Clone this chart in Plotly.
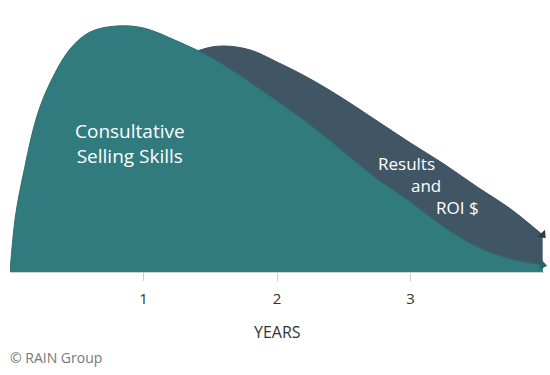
import plotly.graph_objects as go

# Data (x in years, y in relative units)
skills_x = [0.0, 0.04, 0.1, 0.2, 0.3, 0.45, 0.6, 0.8, 1.0, 1.25, 1.5, 1.75, 2.0, 2.25, 2.5, 2.75,
            3.0, 3.25, 3.5, 3.75, 3.99]
skills_y = [0, 55, 98, 155, 189, 223, 240, 246, 244, 231, 215, 194, 171, 147, 120, 93,
            70, 45, 25, 13, 7]

roi_x = [0.75, 1.0, 1.25, 1.45, 1.6, 1.8, 2.0, 2.25, 2.5, 2.75, 3.0, 3.25, 3.5, 3.75, 3.99]
roi_y = [0, 140, 210, 223, 226, 222, 210, 193, 173, 151, 129, 108, 85, 63, 37]

tick_vals = [1, 2, 3]
tick_text = ["1", "2", "3"]

TEAL = "#317b7f"
DARK = "#405664"
FONT = "Open Sans"

fig = go.Figure()

fig.add_trace(go.Scatter(
    x=roi_x, y=roi_y, mode="lines", line=dict(color="#3a4e5b", width=1, shape="spline", smoothing=1.0),
    fill="tozeroy", fillcolor=DARK, hoverinfo="skip", showlegend=False))
fig.add_trace(go.Scatter(
    x=skills_x, y=skills_y, mode="lines", line=dict(color="#2b6e72", width=1, shape="spline", smoothing=1.0),
    fill="tozeroy", fillcolor=TEAL, hoverinfo="skip", showlegend=False))

# arrowheads at the ends
fig.add_trace(go.Scatter(
    x=[roi_x[-1]], y=[roi_y[-1]], mode="markers",
    marker=dict(symbol="triangle-right", size=9, color="#2f3f4a", angle=48),
    hoverinfo="skip", showlegend=False, cliponaxis=False))
fig.add_trace(go.Scatter(
    x=[skills_x[-1]], y=[skills_y[-1]], mode="markers",
    marker=dict(symbol="triangle-right", size=9, color="#22666a", angle=10),
    hoverinfo="skip", showlegend=False, cliponaxis=False))

fig.update_layout(
    width=550, height=375,
    margin=dict(l=10, r=6, t=0, b=103),
    paper_bgcolor="white", plot_bgcolor="white",
    font=dict(family=FONT, color="#333333"),
    xaxis=dict(range=[0, 4], showgrid=False, zeroline=False, showline=True,
               linecolor="#d0d0d0", linewidth=1,
               tickmode="array", tickvals=tick_vals, ticktext=tick_text,
               ticks="outside", ticklen=8, tickcolor="#cccccc", ticklabelstandoff=5,
               tickfont=dict(size=15, color="#333333", family=FONT)),
    yaxis=dict(range=[0, 272], visible=False, showgrid=False, zeroline=False),
)

fig.add_annotation(x=0.9, y=129, text="Consultative<br>Selling Skills", showarrow=False,
                   font=dict(size=19, color="white", family=FONT), align="center")
fig.add_annotation(x=3.2, y=109, text="Results", showarrow=False, xanchor="right",
                   font=dict(size=17, color="white", family=FONT))
fig.add_annotation(x=3.24, y=87, text="and", showarrow=False, xanchor="right",
                   font=dict(size=17, color="white", family=FONT))
fig.add_annotation(x=3.53, y=65, text="ROI $", showarrow=False, xanchor="right",
                   font=dict(size=17, color="white", family=FONT))

fig.add_annotation(xref="paper", yref="paper", x=0.5, y=-60/272, yanchor="middle",
                   text="YEARS", showarrow=False, font=dict(size=16, color="#333333", family=FONT))
fig.add_annotation(xref="paper", yref="paper", x=0, xanchor="left", y=-85/272, yanchor="middle",
                   text="© RAIN Group", showarrow=False, font=dict(size=14, color="#777777", family=FONT),
                   xshift=-2)

fig.write_html("out.html")
